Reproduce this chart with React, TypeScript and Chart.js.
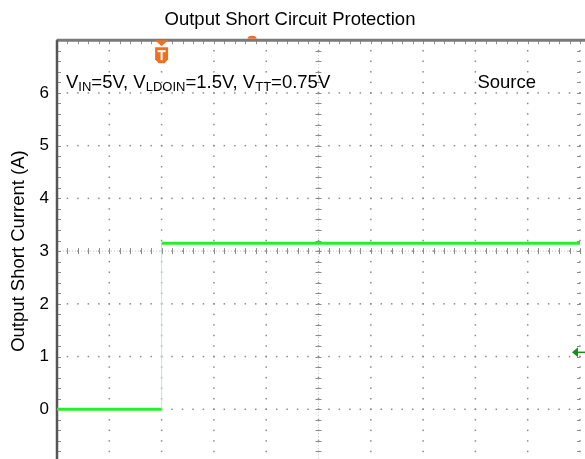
import React, { useEffect, useRef } from 'react';
import { Chart, registerables } from 'chart.js';

Chart.register(...registerables);

// ---- data ----
const TITLE = 'Output Short Circuit Protection';
const Y_TITLE = 'Output Short Current (A)';
const Y_TICK_LABELS = [0, 1, 2, 3, 4, 5, 6];
const X_RANGE = [0, 10]; // horizontal divisions
const Y_RANGE = [-1, 7]; // amps
const TIME_DIV = [0, 2, 2, 10];
const CURRENT_A = [0, 0, 3.15, 3.15];
const TRIGGER_DIV = 2;
const HPOS_DIV = 3.73;
const CH_MARKER_A = 1.08;
const CENTER_X = 5;
const CENTER_Y = 3;
const ANNOT_PARTS = [
  { t: 'V', sub: false },
  { t: 'IN', sub: true },
  { t: '=5V, V', sub: false },
  { t: 'LDOIN', sub: true },
  { t: '=1.5V, V', sub: false },
  { t: 'TT', sub: true },
  { t: '=0.75V', sub: false },
];
const SOURCE_LABEL = 'Source';

const FONT = '"Liberation Sans", Arial, sans-serif';
const GREEN = 'rgb(40,238,40)';
const ORANGE = '#f0701e';

const scopePlugin = {
  id: 'scopeDecor',
  beforeDatasetsDraw(chart: any) {
    const { ctx, chartArea: a } = chart;
    const xs = chart.scales.x;
    const ys = chart.scales.y;
    ctx.save();
    // dotted major lines
    ctx.fillStyle = '#8c8c8c';
    for (let i = X_RANGE[0]; i <= X_RANGE[1]; i++) {
      const px = xs.getPixelForValue(i);
      for (let k = Y_RANGE[0] * 5; k <= Y_RANGE[1] * 5; k++) {
        const py = ys.getPixelForValue(k / 5);
        ctx.fillRect(px - 0.75, py - 0.75, 1.5, 1.5);
      }
    }
    for (let j = Y_RANGE[0]; j <= Y_RANGE[1]; j++) {
      const py = ys.getPixelForValue(j);
      for (let k = X_RANGE[0] * 5; k <= X_RANGE[1] * 5; k++) {
        const px = xs.getPixelForValue(k / 5);
        ctx.fillRect(px - 0.75, py - 0.75, 1.5, 1.5);
      }
    }
    // center lines (fine dotted)
    const cx = xs.getPixelForValue(CENTER_X);
    const cy = ys.getPixelForValue(CENTER_Y);
    ctx.strokeStyle = '#c4c4c4';
    ctx.lineWidth = 1;
    ctx.setLineDash([1, 2]);
    ctx.beginPath();
    ctx.moveTo(cx, a.top);
    ctx.lineTo(cx, a.bottom);
    ctx.moveTo(a.left, cy);
    ctx.lineTo(a.right, cy);
    ctx.stroke();
    ctx.setLineDash([]);
    // tick marks
    ctx.strokeStyle = '#8c8c8c';
    ctx.lineWidth = 1;
    ctx.beginPath();
    for (let k = X_RANGE[0] * 5; k <= X_RANGE[1] * 5; k++) {
      const px = Math.round(xs.getPixelForValue(k / 5)) + 0.5;
      ctx.moveTo(px, cy - 3);
      ctx.lineTo(px, cy + 3);
      ctx.moveTo(px, a.top);
      ctx.lineTo(px, a.top + 4);
    }
    for (let k = Y_RANGE[0] * 5; k <= Y_RANGE[1] * 5; k++) {
      const py = Math.round(ys.getPixelForValue(k / 5)) + 0.5;
      ctx.moveTo(cx - 3, py);
      ctx.lineTo(cx + 3, py);
      ctx.moveTo(a.left, py);
      ctx.lineTo(a.left + 4, py);
      ctx.moveTo(a.right - 3, py);
      ctx.lineTo(a.right, py);
    }
    ctx.stroke();
    // borders
    ctx.strokeStyle = '#7a7a7a';
    ctx.lineWidth = 3;
    ctx.beginPath();
    ctx.moveTo(a.left, a.top);
    ctx.lineTo(chart.width, a.top);
    ctx.stroke();
    ctx.strokeStyle = '#555';
    ctx.lineWidth = 2.5;
    ctx.beginPath();
    ctx.moveTo(a.left, a.top);
    ctx.lineTo(a.left, chart.height);
    ctx.stroke();
    ctx.restore();
  },
  afterDatasetsDraw(chart: any) {
    const { ctx, chartArea: a } = chart;
    const xs = chart.scales.x;
    const ys = chart.scales.y;
    ctx.save();
    // horizontal position marker
    const hx = xs.getPixelForValue(HPOS_DIV);
    ctx.fillStyle = ORANGE;
    ctx.beginPath();
    ctx.ellipse(hx, a.top - 1.5, 4.5, 3, 0, Math.PI, 0);
    ctx.fill();
    // trigger marker
    const tx = xs.getPixelForValue(TRIGGER_DIV);
    const t0 = a.top;
    ctx.beginPath();
    ctx.moveTo(tx - 6.5, t0);
    ctx.lineTo(tx + 6.5, t0);
    ctx.lineTo(tx, t0 + 6);
    ctx.closePath();
    ctx.fill();
    ctx.beginPath();
    ctx.moveTo(tx - 6.5, t0 + 7);
    ctx.lineTo(tx + 6.5, t0 + 7);
    ctx.lineTo(tx + 6.5, t0 + 19);
    ctx.lineTo(tx + 3, t0 + 23);
    ctx.lineTo(tx - 3, t0 + 23);
    ctx.lineTo(tx - 6.5, t0 + 19);
    ctx.closePath();
    ctx.fill();
    ctx.fillStyle = '#fff';
    ctx.fillRect(tx - 4, t0 + 10, 8, 2);
    ctx.fillRect(tx - 1, t0 + 10, 2, 10);
    // channel marker
    const my = ys.getPixelForValue(CH_MARKER_A);
    ctx.fillStyle = 'rgb(25,140,25)';
    ctx.strokeStyle = 'rgb(25,140,25)';
    ctx.beginPath();
    ctx.moveTo(a.right - 8, my);
    ctx.lineTo(a.right - 2, my - 5);
    ctx.lineTo(a.right - 2, my + 5);
    ctx.closePath();
    ctx.fill();
    ctx.lineWidth = 1.5;
    ctx.beginPath();
    ctx.moveTo(a.right - 3, my);
    ctx.lineTo(chart.width, my);
    ctx.stroke();
    // annotation text
    ctx.fillStyle = '#000';
    ctx.textBaseline = 'alphabetic';
    ctx.textAlign = 'left';
    let x = a.left + 9;
    const base = a.top + 47.5;
    for (const p of ANNOT_PARTS) {
      ctx.font = p.sub ? `13px ${FONT}` : `18.5px ${FONT}`;
      ctx.fillText(p.t, x, p.sub ? base + 3.5 : base);
      x += ctx.measureText(p.t).width;
    }
    ctx.font = `18.5px ${FONT}`;
    ctx.textAlign = 'right';
    ctx.fillText(SOURCE_LABEL, a.right - 44, base);
    ctx.restore();
  },
};

export default function App() {
  const ref = useRef<HTMLCanvasElement>(null);
  useEffect(() => {
    document.body.style.margin = '0';
    const canvas = ref.current;
    if (!canvas) return;
    Chart.defaults.font.family = FONT;
    const chart = new Chart(canvas, {
      type: 'line',
      data: {
        datasets: [
          {
            data: TIME_DIV.map((x, i) => ({ x, y: CURRENT_A[i] })),
            borderColor: GREEN,
            borderWidth: 3,
            pointRadius: 0,
            tension: 0,
            segment: {
              borderColor: (c: any) => (c.p0.parsed.x === c.p1.parsed.x ? 'rgba(170,245,170,0.9)' : undefined),
              borderWidth: (c: any) => (c.p0.parsed.x === c.p1.parsed.x ? 1 : undefined),
            },
          } as any,
        ],
      },
      options: {
        responsive: false,
        animation: false,
        layout: { padding: { left: 0, right: 5, top: 0, bottom: 0 } },
        plugins: {
          legend: { display: false },
          tooltip: { enabled: false },
          title: {
            display: true,
            text: TITLE,
            color: '#000',
            font: { family: FONT, size: 18.5, weight: 'normal' },
            padding: { top: 9, bottom: 9 },
          },
        },
        scales: {
          x: { type: 'linear', min: X_RANGE[0], max: X_RANGE[1], display: false },
          y: {
            type: 'linear',
            min: Y_RANGE[0],
            max: Y_RANGE[1],
            grid: { display: false, drawTicks: false },
            border: { display: false },
            ticks: {
              stepSize: 1,
              color: '#000',
              padding: 8,
              font: { family: FONT, size: 17 },
              callback: (v: any) => (Y_TICK_LABELS.includes(Number(v)) ? String(v) : ''),
            },
            title: {
              display: true,
              text: Y_TITLE,
              color: '#000',
              font: { family: FONT, size: 18.5 },
              padding: { top: 8, bottom: 0 },
            },
            afterFit: (s: any) => {
              s.width = 57;
              s.paddingTop = 0;
              s.paddingBottom = 0;
            },
          },
        },
      } as any,
      plugins: [scopePlugin],
    });
    return () => chart.destroy();
  }, []);
  return (
    <div style={{ width: 585, height: 459, overflow: 'hidden', background: '#fff' }}>
      <canvas ref={ref} width={585} height={462} style={{ display: 'block' }} />
    </div>
  );
}
